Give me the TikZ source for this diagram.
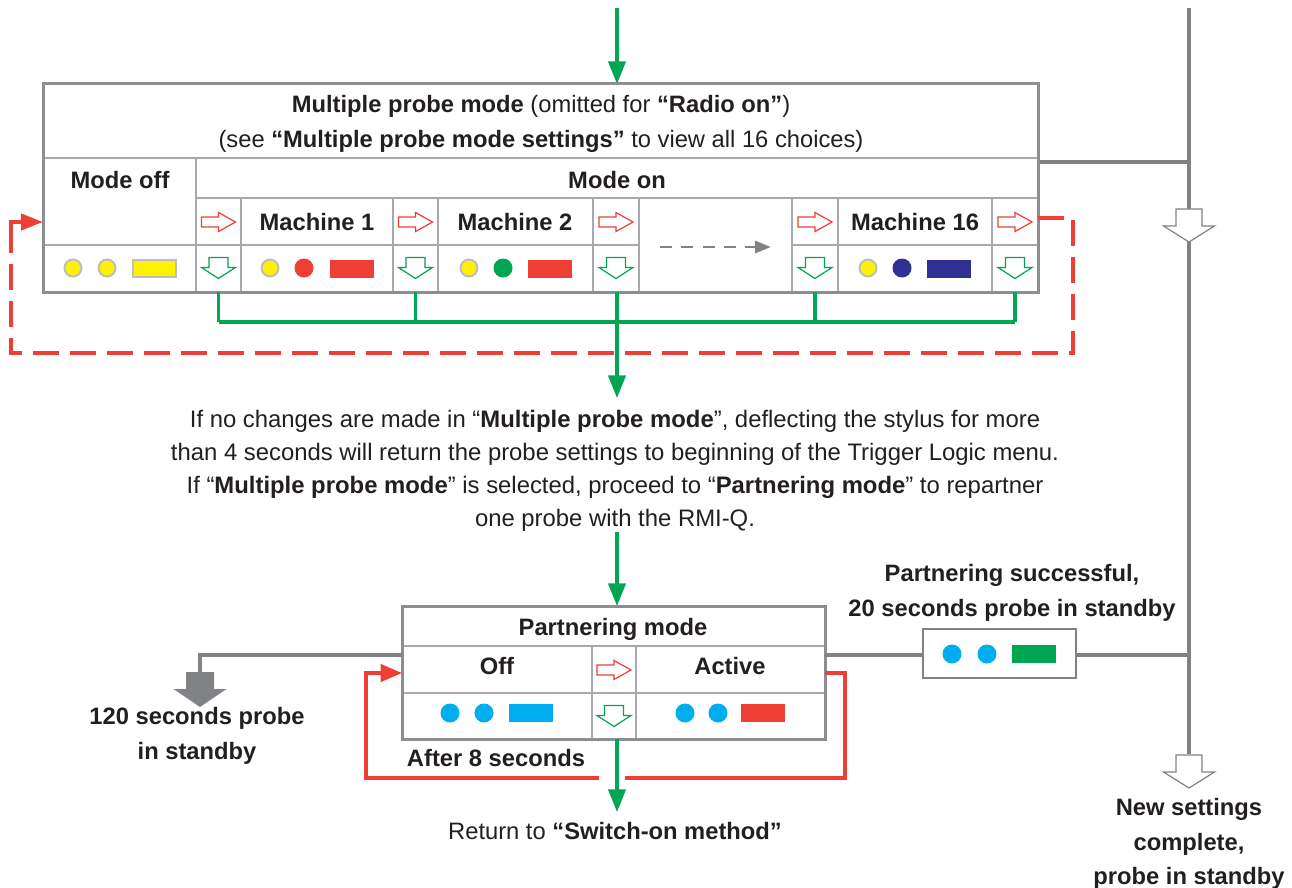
\documentclass[tikz,border=0pt]{standalone}
\usepackage{fontspec}
\setmainfont{Liberation Sans}
\usetikzlibrary{arrows.meta}
\definecolor{lgrey}{RGB}{128,130,133}
\definecolor{tgrey}{RGB}{167,169,172}
\definecolor{ogrey}{RGB}{140,142,145}
\definecolor{ored}{RGB}{239,62,51}
\definecolor{ogreen}{RGB}{0,166,81}
\definecolor{oyellow}{RGB}{255,242,0}
\definecolor{ocyan}{RGB}{0,174,239}
\definecolor{onavy}{RGB}{46,49,146}
\definecolor{ringgrey}{RGB}{188,190,192}
\definecolor{txt}{RGB}{35,31,32}
\tikzset{
  lbl/.style={font=\fontsize{17.8}{26}\selectfont, text=txt, inner sep=0pt, align=center},
  bl/.style={lbl, font=\fontsize{17.8}{26}\selectfont\bfseries},
  bodyline/.style={lbl, anchor=base, font=\fontsize{17.9}{25}\selectfont},
  outer/.style={draw=ogrey, line width=2.25pt},
  inner/.style={draw=tgrey, line width=1.5pt},
  greyline/.style={draw=lgrey, line width=3pt},
  greenline/.style={draw=ogreen, line width=2.4pt},
  greenarrow/.style={greenline, -{Triangle[length=17pt,width=13pt]}},
  redline/.style={draw=ored, line width=2.4pt},
  redarrow/.style={redline, -{Triangle[length=16pt,width=13pt]}},
  reddash/.style={draw=ored, line width=3pt, dash pattern=on 19.5pt off 8.25pt},
  ycirc/.style={fill=oyellow, draw=ringgrey, line width=1.5pt},
  redarr/.pic={\draw[ored, line width=0.9pt, fill=white] (-17,-5) -- (0,-5) -- (0,-9.5) -- (17,0) -- (0,9.5) -- (0,5) -- (-17,5) -- cycle;},
  greenarr/.pic={\draw[ogreen, line width=0.9pt, fill=white] (-9.5,-10.5) -- (9.5,-10.5) -- (9.5,-0.5) -- (17,-0.5) -- (0,10.5) -- (-17,-0.5) -- (-9.5,-0.5) -- cycle;},
  greyhollow/.pic={\draw[lgrey, line width=0.9pt, fill=white] (-13,-17) -- (13,-17) -- (13,0) -- (25.5,0) -- (0,16) -- (-25.5,0) -- (-13,0) -- cycle;},
  greyfilled/.pic={\fill[lgrey] (-14,-17) -- (14,-17) -- (14,0) -- (26.5,0) -- (0,18) -- (-26.5,0) -- (-14,0) -- cycle;},
}
\begin{document}
\begin{tikzpicture}[x=0.75pt,y=-0.75pt]
\useasboundingbox (0,0) rectangle (1292,888);

% ---------- coordinates ----------
\coordinate (topin) at (617,8);
\coordinate (tabtop) at (617,84);
\coordinate (greytop) at (1189,8);

% ---------- grey right-hand line ----------
\draw[greyline] (1038,162) -- (1189,162);
\draw[greyline] (greytop) -- (1189,754);
\pic at (1189,226) {greyhollow};
\pic at (1189,772) {greyhollow};
\node[bl] (newset) at (1189,844) {New settings\\complete,\\probe in standby};

% ---------- top green arrow ----------
\draw[greenarrow] (topin) -- (tabtop);

% ---------- top table ----------
\fill[white] (43,84) rectangle (1038,292);
\draw[inner] (43,158) -- (1038,158);
\draw[inner] (196,198) -- (1038,198);
\draw[inner] (43,245) -- (639,245);
\draw[inner] (792,245) -- (1038,245);
\draw[inner] (196,158) -- (196,292);
\foreach \x in {241,393,438,593,639,792,838,992} \draw[inner] (\x,198) -- (\x,292);
\draw[outer] (43,84) rectangle (1038,292);

\node[lbl] (title) at (541,124) {\textbf{Multiple probe mode} (omitted for \textbf{“Radio on”})\\(see \textbf{“Multiple probe mode settings”} to view all 16 choices)};
\node[bl] (modeoff) at (120,180) {Mode off};
\node[bl] (modeon) at (617,180) {Mode on};
\node[bl] (m1) at (317,222) {Machine 1};
\node[bl] (m2) at (515,222) {Machine 2};
\node[bl] (m16) at (915,222) {Machine 16};

\foreach \x in {218.5,415.5,616,815,1015} {
  \pic at (\x,222) {redarr};
  \pic at (\x,268) {greenarr};
}
\draw[draw=lgrey, line width=2.2pt, dash pattern=on 9pt off 7pt, -{Triangle[length=12pt,width=9pt]}] (660,247) -- (771,247);

% lights
\draw[ycirc] (73,268) circle (8.5);
\draw[ycirc] (107,268) circle (8.5);
\draw[fill=oyellow, draw=ringgrey, line width=1.5pt] (133,260) rectangle (176,277);
\draw[ycirc] (270,268) circle (8.5);
\fill[ored] (304,268) circle (9.5);
\fill[ored] (330,259.5) rectangle (374,277.5);
\draw[ycirc] (469,268) circle (8.5);
\fill[ogreen] (503,268) circle (9.5);
\fill[ored] (528,259.5) rectangle (572,277.5);
\draw[ycirc] (868,268) circle (8.5);
\fill[onavy] (902,268) circle (9.5);
\fill[onavy] (927,259.5) rectangle (971,277.5);

% green collectors
\foreach \x in {218.5,415.5,815,1015} \draw[greenline] (\x,292) -- (\x,322);
\draw[greenline] (218.5,322) -- (1015,322);
\coordinate (midtop) at (617,292);
\coordinate (midtext) at (617,398);
\draw[greenarrow] (midtop) -- (midtext);

% red dashed return
\coordinate (rdstart) at (1038,218);
\coordinate (rdcorner) at (11,222);
\coordinate (rdend) at (43,222);
\draw[reddash] (rdstart) -- (1073,218) -- (1073,353) -- (11,353) -- (11,236);
\draw[redline, line width=3pt, -{Triangle[length=16.5pt,width=12pt]}] (11,236) -- (rdcorner) -- (rdend);

% ---------- middle text ----------
\node[bodyline] (info1) at (615,427) {If no changes are made in “\textbf{Multiple probe mode}”, deflecting the stylus for more};
\node[bodyline] (info2) at (615,460) {than 4 seconds will return the probe settings to beginning of the Trigger Logic menu.};
\node[bodyline] (info3) at (615,493) {If “\textbf{Multiple probe mode}” is selected, proceed to “\textbf{Partnering mode}” to repartner};
\node[bodyline] (info4) at (615,526) {one probe with the RMI-Q.};

\coordinate (pmin) at (617,532);
\coordinate (pmtop) at (617,606);
\draw[greenarrow] (pmin) -- (pmtop);

% ---------- partnering table ----------
\fill[white] (402,606) rectangle (825,739);
\draw[inner] (402,646) -- (825,646);
\draw[inner] (402,693) -- (825,693);
\draw[inner] (592,646) -- (592,739);
\draw[inner] (636,646) -- (636,739);
\draw[outer] (402,606) rectangle (825,739);
\node[bl] (pm) at (613,629) {Partnering mode};
\node[bl] (off) at (497,666) {Off};
\node[bl] (active) at (730,666) {Active};
\pic at (614,670) {redarr};
\pic at (614,716) {greenarr};
\fill[ocyan] (450,713) circle (9.5);
\fill[ocyan] (484,713) circle (9.5);
\fill[ocyan] (509,704) rectangle (553,722);
\fill[ocyan] (685,713) circle (9.5);
\fill[ocyan] (718,713) circle (9.5);
\fill[ored] (741,704) rectangle (785,722);

% red loop
\draw[redline] (825,673) -- (845,673) -- (845,778) -- (625,778);
\draw[redarrow] (599,778) -- (366,778) -- (366,673) -- (402,673);
\node[bl] (after) at (496,758) {After 8 seconds};

% bottom green arrow
\coordinate (pmbot) at (617,739);
\coordinate (ret) at (617,812);
\draw[greenarrow] (pmbot) -- (ret);
\node[lbl] (return) at (615,831) {Return to \textbf{“Switch-on method”}};

% grey left
\draw[greyline] (402,655) -- (200,655) -- (200,673);
\pic at (200,689) {greyfilled};
\node[bl] (s120) at (197,736) {120 seconds probe\\in standby};

% grey right & standby box
\draw[greyline] (825,655) -- (923,655);
\draw[greyline] (1076,655) -- (1189,655);
\draw[draw=lgrey, line width=2.2pt, fill=white] (923,629) rectangle (1076,678);
\fill[ocyan] (952,654) circle (9.5);
\fill[ocyan] (987,654) circle (9.5);
\fill[ogreen] (1012,645) rectangle (1056,663);
\node[bl] (succ) at (1012,593) {Partnering successful,\\20 seconds probe in standby};
\end{tikzpicture}
\end{document}
